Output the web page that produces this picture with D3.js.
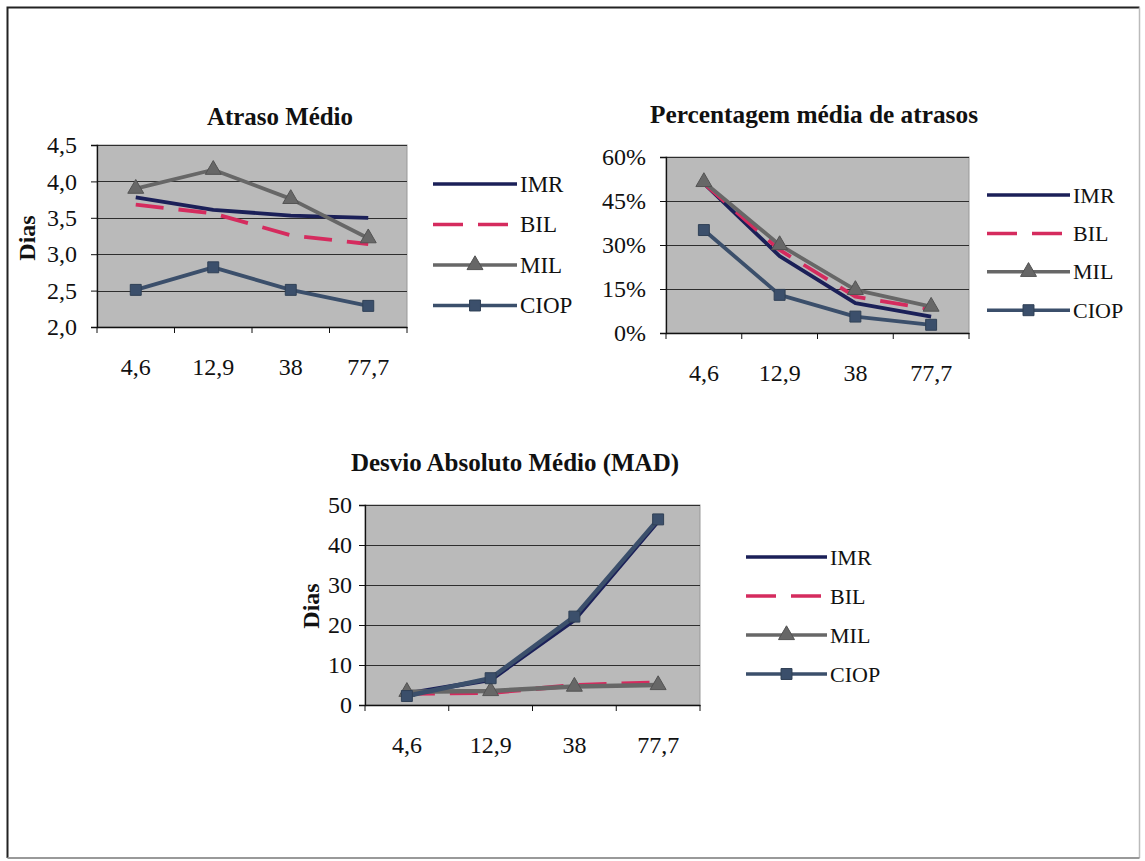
<!DOCTYPE html>
<html>
<head>
<meta charset="utf-8">
<script src="https://cdn.jsdelivr.net/npm/d3@7/dist/d3.min.js"></script>
<style>
  body { margin: 0; background: #fff; }
  svg { display: block; }
  svg text { font-family: "Liberation Serif", "Times New Roman", serif; }
</style>
</head>
<body>
<div id="vis"></div>
<script>
const categories = ["4,6", "12,9", "38", "77,7"]
const seriesNames = ["IMR", "BIL", "MIL", "CIOP"]

// Atraso Médio (dias)
const atrasoIMR = [3.78, 3.61, 3.53, 3.50]
const atrasoBIL = [3.68, 3.56, 3.26, 3.14]
const atrasoMIL = [3.90, 4.16, 3.76, 3.22]
const atrasoCIOP = [2.51, 2.82, 2.51, 2.29]
const atrasoTicks = [2.0, 2.5, 3.0, 3.5, 4.0, 4.5]

// Percentagem média de atrasos
const percIMR = [0.510, 0.262, 0.102, 0.056]
const percBIL = [0.510, 0.283, 0.124, 0.081]
const percMIL = [0.515, 0.300, 0.147, 0.090]
const percCIOP = [0.351, 0.130, 0.056, 0.028]
const percTicks = [0, 0.15, 0.30, 0.45, 0.60]

// Desvio Absoluto Médio (MAD)
const madIMR = [2.8, 6.3, 21.3, 46.0]
const madBIL = [2.9, 3.1, 4.9, 5.6]
const madMIL = [3.3, 3.5, 4.6, 5.0]
const madCIOP = [2.25, 6.7, 22.1, 46.4]
const madTicks = [0, 10, 20, 30, 40, 50]

const colours = { IMR: "#1b2058", BIL: "#d52b5e", MIL: "#676767", CIOP: "#3b4f6b" }
const dashes = { BIL: "28,15" }
const markers = { MIL: "triangle", CIOP: "square" }

const ptLocale = d3.formatLocale({ decimal: ",", thousands: ".", grouping: [3], currency: ["", ""], percent: "%" })

const W = 1145, H = 861
const svg = d3.select("#vis").append("svg")
  .attr("width", W).attr("height", H)

// outer frame
svg.append("path").attr("d", "M7.5,858 V7.5 H1139.5").attr("fill", "none").attr("stroke", "#222").attr("stroke-width", 2)
svg.append("path").attr("d", "M1139.5,7.5 V858").attr("fill", "none").attr("stroke", "#bbb").attr("stroke-width", 1.5)
svg.append("path").attr("d", "M7.5,858 H1139.5").attr("fill", "none").attr("stroke", "#999").attr("stroke-width", 2)

const symbolFor = name => markers[name] === "triangle"
  ? d3.symbol(d3.symbolTriangle, 110)
  : d3.symbol(d3.symbolSquare, 120)

function drawChart(o) {
  const g = svg.append("g")
  const x = d3.scaleBand().domain(categories).range([o.left, o.right]).padding(0)
  const y = d3.scaleLinear().domain(o.domain).range([o.bottom, o.top])
  const cx = d => x(d) + x.bandwidth() / 2

  // plot background
  g.append("rect")
    .attr("x", o.left).attr("y", o.top)
    .attr("width", o.right - o.left).attr("height", o.bottom - o.top)
    .attr("fill", "#bababa").attr("stroke", "#999").attr("stroke-width", 1)

  // gridlines
  g.append("g").selectAll("line")
    .data(o.ticks.filter(t => t !== o.domain[0]))
    .join("line")
    .attr("x1", o.left).attr("x2", o.right)
    .attr("y1", d => Math.round(y(d)) + 0.5).attr("y2", d => Math.round(y(d)) + 0.5)
    .attr("stroke", "#2e2e2e").attr("stroke-width", 1.2)

  // y axis
  g.append("g")
    .attr("transform", `translate(${o.left},0)`)
    .call(d3.axisLeft(y).tickValues(o.ticks).tickSize(6).tickPadding(o.yPad).tickFormat(o.format))
    .call(a => a.selectAll(".domain").attr("stroke", "#111").attr("stroke-width", 1.3))
    .call(a => a.selectAll(".tick line").attr("stroke", "#111"))
    .call(a => a.selectAll(".tick text").attr("font-size", 24).attr("fill", "#111"))

  // x axis: labels centred, ticks on category boundaries
  g.append("g")
    .attr("transform", `translate(0,${o.bottom})`)
    .call(d3.axisBottom(x).tickSize(0).tickPadding(31))
    .call(a => a.selectAll(".domain").attr("stroke", "#111").attr("stroke-width", 1.3))
    .call(a => a.selectAll(".tick text").attr("font-size", 24).attr("fill", "#111"))
  g.append("g").selectAll("line")
    .data(d3.range(categories.length + 1))
    .join("line")
    .attr("x1", i => o.left + i * x.step()).attr("x2", i => o.left + i * x.step())
    .attr("y1", o.bottom).attr("y2", o.bottom + 6)
    .attr("stroke", "#111")

  // series lines
  const line = d3.line().x((d, i) => cx(categories[i])).y(d => y(d))
  seriesNames.forEach(name => {
    const vals = o.data[name]
    g.append("path")
      .datum(vals)
      .attr("d", line)
      .attr("fill", "none")
      .attr("stroke", colours[name])
      .attr("stroke-width", o.lineW)
      .attr("stroke-linejoin", "round")
      .attr("stroke-dasharray", dashes[name] || null)
    if (markers[name]) {
      g.append("g").selectAll("path")
        .data(vals)
        .join("path")
        .attr("d", symbolFor(name))
        .attr("transform", (d, i) => `translate(${cx(categories[i])},${y(d)})`)
        .attr("fill", colours[name])
        .attr("stroke", d3.color(colours[name]).darker(0.6))
    }
  })

  // title
  g.append("text")
    .attr("x", o.titleX).attr("y", o.titleY)
    .attr("text-anchor", "middle")
    .attr("font-size", 25).attr("font-weight", "bold").attr("fill", "#111")
    .attr("textLength", o.titleLen).attr("lengthAdjust", "spacingAndGlyphs")
    .text(o.title)

  // y axis title
  if (o.yLabel) {
    g.append("text")
      .attr("transform", `translate(${o.yLabelX},${o.yLabelY}) rotate(-90)`)
      .attr("text-anchor", "middle")
      .attr("font-size", 24).attr("font-weight", "bold").attr("fill", "#111")
      .text(o.yLabel)
  }

  // legend
  const lg = g.append("g")
  seriesNames.forEach((name, i) => {
    const ly = o.legY + i * o.legStep
    lg.append("line")
      .attr("x1", o.legX).attr("x2", o.legX + o.legW)
      .attr("y1", ly).attr("y2", ly)
      .attr("stroke", colours[name]).attr("stroke-width", 3.5)
      .attr("stroke-dasharray", dashes[name] ? "30,15" : null)
    if (markers[name]) {
      lg.append("path")
        .attr("d", symbolFor(name))
        .attr("transform", `translate(${o.legX + o.legW / 2},${ly})`)
        .attr("fill", colours[name])
        .attr("stroke", d3.color(colours[name]).darker(0.6))
    }
    lg.append("text")
      .attr("x", o.legX + o.legW + 3).attr("y", ly + 7.5)
      .attr("font-size", o.legFont).attr("fill", "#111")
      .text(name)
  })
}

drawChart({
  left: 97, right: 407, top: 145, bottom: 327,
  domain: [2, 4.5], ticks: atrasoTicks, format: ptLocale.format(".1f"), yPad: 14,
  data: { IMR: atrasoIMR, BIL: atrasoBIL, MIL: atrasoMIL, CIOP: atrasoCIOP },
  title: "Atraso Médio", titleX: 280, titleY: 125, titleLen: 146,
  yLabel: "Dias", yLabelX: 35, yLabelY: 238, lineW: 3.8,
  legX: 433, legW: 84, legY: 184, legStep: 40.5, legFont: 23
})

drawChart({
  left: 666, right: 969, top: 157, bottom: 333,
  domain: [0, 0.6], ticks: percTicks, format: ptLocale.format(".0%"), yPad: 14,
  data: { IMR: percIMR, BIL: percBIL, MIL: percMIL, CIOP: percCIOP },
  title: "Percentagem média de atrasos", titleX: 814, titleY: 123, titleLen: 328,
  yLabel: null, lineW: 3.8,
  legX: 987, legW: 83, legY: 195, legStep: 38.4, legFont: 22
})

drawChart({
  left: 365, right: 700, top: 505, bottom: 705,
  domain: [0, 50], ticks: madTicks, format: ptLocale.format("d"), yPad: 7,
  data: { IMR: madIMR, BIL: madBIL, MIL: madMIL, CIOP: madCIOP },
  title: "Desvio Absoluto Médio (MAD)", titleX: 515, titleY: 471, titleLen: 328,
  yLabel: "Dias", yLabelX: 319, yLabelY: 606, lineW: 4.5,
  legX: 746, legW: 81, legY: 557, legStep: 39, legFont: 22
})
</script>
</body>
</html>
